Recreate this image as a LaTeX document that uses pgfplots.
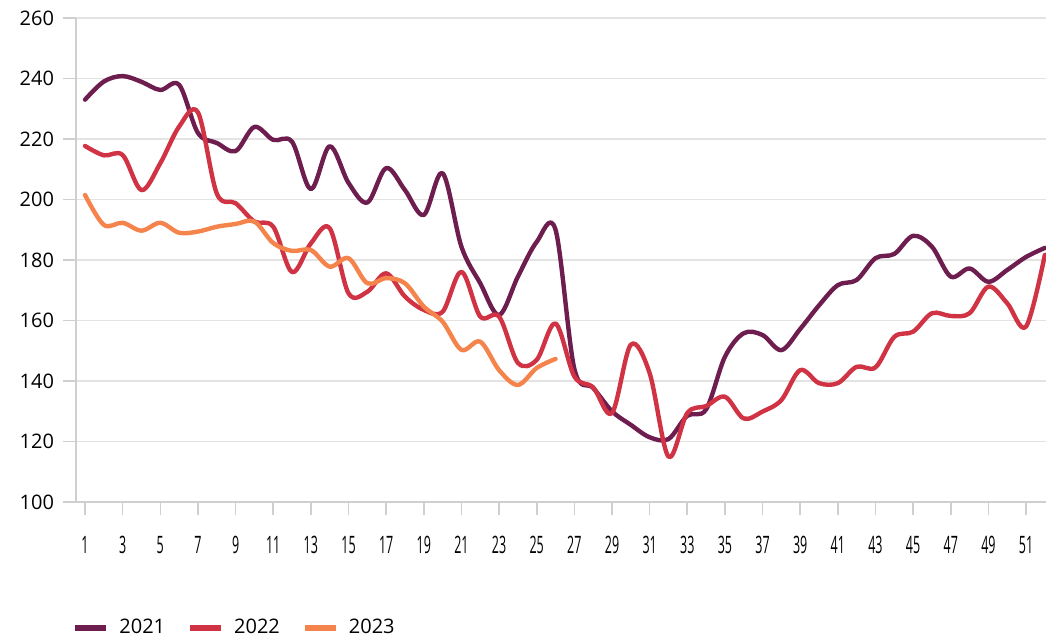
\documentclass[border=0pt]{standalone}
\usepackage{fontspec}
\setmainfont{Open Sans}
\usepackage{graphicx}
\usepackage{pgfplots}
\pgfplotsset{compat=1.18}
\definecolor{c21}{HTML}{6E1E4E}
\definecolor{c22}{HTML}{D03344}
\definecolor{c23}{HTML}{F4844C}
\definecolor{gridc}{HTML}{E3E3E3}
\definecolor{axc}{HTML}{CFCFCF}
\begin{document}
\begin{tikzpicture}
\begin{axis}[
  scale only axis,
  width=485pt, height=242pt,
  xmin=0.52, xmax=52.06,
  ymin=100, ymax=260,
  ytick={100,120,...,260},
  xtick={1,3,...,51},
  axis lines*=left,
  axis line style={axc, line width=0.8pt},
  ymajorgrids,
  grid style={gridc, line width=0.8pt},
  tick style={axc, line width=0.8pt},
  xtick align=outside, ytick align=outside,
  major tick length=6.5pt,
  y axis line style={-}, x axis line style={-},
  tick label style={font=\fontsize{10}{12}\selectfont, text=black},
  yticklabel style={xshift=-1pt},
  xticklabel style={yshift=-7pt, font=\fontsize{12}{13}\selectfont},
  xticklabel={\pgfmathtruncatemacro\tk{\tick}\scalebox{0.52}[1]{\tk}},
  /pgf/number format/assume math mode=true,
  clip=true,
  legend style={at={(-5pt,-63pt)}, anchor=west, draw=none, fill=none,
    font=\fontsize{10}{12}\selectfont,
    /tikz/every odd column/.append style={column sep=3pt},
    /tikz/every even column/.append style={column sep=9pt}},
  legend columns=3,
  legend cell align=left,
  legend image code/.code={\draw[line width=3pt,line cap=butt,#1] (0pt,0pt) -- (15.5pt,0pt);},
  every axis plot/.append style={line width=2.2pt, smooth, tension=0.55, line join=round, line cap=round},
]
\addplot[c21] coordinates {
(1,233) (2,239) (3,240.8) (4,238.9) (5,236.2) (6,237.9) (7,222) (8,218.7) (9,216) (10,224)
(11,219.7) (12,219.1) (13,203.4) (14,217.6) (15,205.5) (16,199) (17,210.4) (18,203.1) (19,194.9) (20,208.7)
(21,184.4) (22,172.3) (23,161.8) (24,174.5) (25,186) (26,190) (27,144) (28,137.7) (29,130) (30,125.5)
(31,121.4) (32,120.8) (33,128.5) (34,130.6) (35,148) (36,155.8) (37,155.2) (38,150.2) (39,157.2) (40,165)
(41,171.7) (42,173.4) (43,180.6) (44,182) (45,188) (46,184.4) (47,174.5) (48,177.2) (49,172.8) (50,176.7)
(51,181) (52,184)
};
\addlegendentry{2021}
\addplot[c22] coordinates {
(1,217.7) (2,214.6) (3,214.7) (4,203.1) (5,212) (6,224.1) (7,228.8) (8,202) (9,198.8) (10,192.7)
(11,191) (12,176) (13,185.5) (14,190.5) (15,169) (16,169.5) (17,175.6) (18,167.9) (19,163.5) (20,162.9)
(21,176.1) (22,161.3) (23,161.3) (24,146) (25,147) (26,159) (27,141.5) (28,137.9) (29,129.4) (30,152)
(31,142.6) (32,115) (33,129.4) (34,131.7) (35,134.8) (36,127.6) (37,129.9) (38,133.7) (39,143.6) (40,139.3)
(41,139.3) (42,144.7) (43,144.5) (44,154.6) (45,156.3) (46,162.4) (47,161.5) (48,162.4) (49,171.2) (50,165.7)
(51,158) (52,181.7)
};
\addlegendentry{2022}
\addplot[c23] coordinates {
(1,201.5) (2,191.6) (3,192.3) (4,189.7) (5,192.3) (6,189) (7,189.4) (8,191) (9,191.9) (10,192.7)
(11,185.6) (12,183) (13,183.3) (14,177.8) (15,180.6) (16,172.3) (17,174) (18,172.3) (19,164.6) (20,159.6)
(21,150.3) (22,153) (23,143.6) (24,138.7) (25,144.3) (26,147.3)
};
\addlegendentry{2023}
\end{axis}
\pgfresetboundingbox
\path[use as bounding box] (-38pt,-68pt) rectangle (485pt,251pt);
\end{tikzpicture}
\end{document}
